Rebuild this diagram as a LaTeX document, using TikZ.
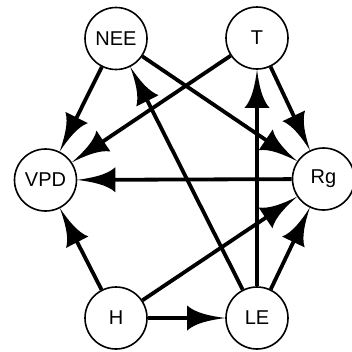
\documentclass[tikz,border=0pt]{standalone}
\usepackage{fontspec}
\setmainfont{Liberation Sans}
\pgfdeclarearrow{
  name = Conc,
  setup code = {
    \pgfarrowssettipend{0pt}
    \pgfarrowssetbackend{-38pt}
    \pgfarrowssetlineend{-30pt}
    \pgfarrowsupperhullpoint{-38pt}{12.5pt}
    \pgfarrowshullpoint{0pt}{0pt}
  },
  drawing code = {
    \pgfpathmoveto{\pgfqpoint{0pt}{0pt}}
    \pgfpathcurveto{\pgfqpoint{-15pt}{2pt}}{\pgfqpoint{-30pt}{5pt}}{\pgfqpoint{-38pt}{12.5pt}}
    \pgfpathlineto{\pgfqpoint{-38pt}{-12.5pt}}
    \pgfpathcurveto{\pgfqpoint{-30pt}{-5pt}}{\pgfqpoint{-15pt}{-2pt}}{\pgfqpoint{0pt}{0pt}}
    \pgfpathclose
    \pgfusepathqfill
  }
}
\begin{document}
\begin{tikzpicture}[x=1pt,y=-1pt,
  nd/.style={circle,draw,line width=1.6pt,minimum size=62pt,inner sep=0pt,
    font=\fontsize{20}{24}\selectfont},
  ed/.style={line width=3.8pt,-Conc}]
\useasboundingbox (0,0) rectangle (352,351);
\fill[white] (0,0) rectangle (352,351);
\node[nd] (NEE) at (116,38.5) {NEE};
\node[nd] (T) at (257,38) {T};
\node[nd] (VPD) at (45.5,180) {VPD};
\node[nd] (Rg) at (323.5,179) {Rg};
\node[nd] (H) at (116,318) {H};
\node[nd] (LE) at (257,318) {LE};
\draw[ed] (NEE) -- (VPD);
\draw[ed] (NEE) -- (Rg);
\draw[ed] (T) -- (VPD);
\draw[ed] (T) -- (Rg);
\draw[ed] (Rg) -- (VPD);
\draw[ed] (LE) -- (NEE);
\draw[ed] (LE) -- (T);
\draw[ed] (LE) -- (Rg);
\draw[ed] (H) -- (VPD);
\draw[ed] (H) -- (Rg);
\draw[ed] (H) -- (LE);
\end{tikzpicture}
\end{document}
